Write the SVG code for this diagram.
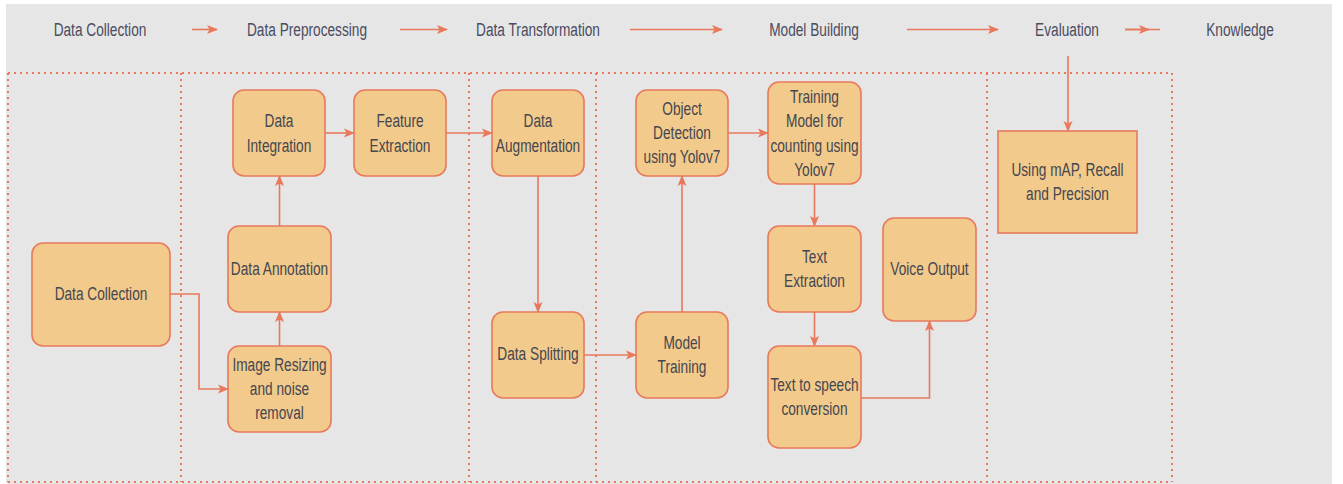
<svg xmlns="http://www.w3.org/2000/svg" width="1343" height="484" viewBox="0 0 1343 484">
<style>
.bg{fill:#e6e6e6}
.dot{fill:none;stroke:#e8795c;stroke-width:2;stroke-dasharray:2 4}
.node{fill:#f2ca8c;stroke:#e8795c;stroke-width:1.6}
.conn{fill:none;stroke:#e8795c;stroke-width:1.6}
.hdr{font-family:"Liberation Sans",Arial,sans-serif;font-size:19px;fill:#4a4c60;text-anchor:middle}
.lbl{font-family:"Liberation Sans",Arial,sans-serif;font-size:19px;fill:#45464f;text-anchor:middle}
</style>
<defs>
<marker id="ah" markerWidth="11" markerHeight="10" refX="10" refY="5" orient="auto" markerUnits="userSpaceOnUse">
<path d="M0,0.5 L11,5 L0,9.5 L2.5,5 Z" fill="#e8795c"/>
</marker>
</defs>
<rect x="0" y="0" width="1343" height="484" fill="#ffffff"/>
<rect class="bg" x="6" y="4" width="1326" height="480"/>

<g id="lanes">
<path class="dot" d="M8,73 H1172 M8,482 H1172 M8,73 V482 M181,73 V482 M469,73 V482 M596,73 V482 M987,73 V482 M1172,73 V482"/>
</g>

<g id="header">
<text class="hdr" transform="translate(100 35.5) scale(0.72 1)">Data Collection</text>
<text class="hdr" transform="translate(307 35.5) scale(0.72 1)">Data Preprocessing</text>
<text class="hdr" transform="translate(538 35.5) scale(0.72 1)">Data Transformation</text>
<text class="hdr" transform="translate(814 35.5) scale(0.72 1)">Model Building</text>
<text class="hdr" transform="translate(1067 35.5) scale(0.72 1)">Evaluation</text>
<text class="hdr" transform="translate(1240 35.5) scale(0.72 1)">Knowledge</text>
</g>

<g id="connectors">
<path class="conn" d="M192,29.5 H217" marker-end="url(#ah)"/>
<path class="conn" d="M400,29.5 H447" marker-end="url(#ah)"/>
<path class="conn" d="M630,29.5 H722" marker-end="url(#ah)"/>
<path class="conn" d="M907,29.5 H998" marker-end="url(#ah)"/>
<path class="conn" d="M1125,29.5 H1160"/>
<path class="conn" d="M1125,29.5 H1149" marker-end="url(#ah)"/>
<path class="conn" d="M1068,56 V131" marker-end="url(#ah)"/>
<path class="conn" d="M170,294 H199 V389 H228" marker-end="url(#ah)"/>
<path class="conn" d="M279.5,346 V312" marker-end="url(#ah)"/>
<path class="conn" d="M279.5,226 V176" marker-end="url(#ah)"/>
<path class="conn" d="M325,133 H354" marker-end="url(#ah)"/>
<path class="conn" d="M446,133 H492" marker-end="url(#ah)"/>
<path class="conn" d="M538,176 V312" marker-end="url(#ah)"/>
<path class="conn" d="M584,355 H636" marker-end="url(#ah)"/>
<path class="conn" d="M682,312 V176" marker-end="url(#ah)"/>
<path class="conn" d="M728,133 H768" marker-end="url(#ah)"/>
<path class="conn" d="M814.5,184 V226" marker-end="url(#ah)"/>
<path class="conn" d="M814.5,312 V346" marker-end="url(#ah)"/>
<path class="conn" d="M861,398 H929.5 V321" marker-end="url(#ah)"/>
</g>

<g id="n-data-collection">
<rect class="node" x="32" y="243" width="138" height="103" rx="11"/>
<text class="lbl" transform="translate(101 300) scale(0.72 1)">Data Collection</text>
</g>
<g id="n-data-integration">
<rect class="node" x="233" y="90" width="92" height="86" rx="11"/>
<text class="lbl" transform="translate(279 127) scale(0.72 1)"><tspan x="0" y="0">Data</tspan><tspan x="0" dy="25">Integration</tspan></text>
</g>
<g id="n-feature-extraction">
<rect class="node" x="354" y="90" width="92" height="86" rx="11"/>
<text class="lbl" transform="translate(400 127) scale(0.72 1)"><tspan x="0" y="0">Feature</tspan><tspan x="0" dy="25">Extraction</tspan></text>
</g>
<g id="n-data-annotation">
<rect class="node" x="228" y="226" width="103" height="86" rx="11"/>
<text class="lbl" transform="translate(279.5 275) scale(0.72 1)">Data Annotation</text>
</g>
<g id="n-image-resizing">
<rect class="node" x="228" y="346" width="103" height="86" rx="11"/>
<text class="lbl" transform="translate(279.5 370.5) scale(0.72 1)"><tspan x="0" y="0">Image Resizing</tspan><tspan x="0" dy="24.5">and noise</tspan><tspan x="0" dy="24.5">removal</tspan></text>
</g>
<g id="n-data-augmentation">
<rect class="node" x="492" y="90" width="92" height="86" rx="11"/>
<text class="lbl" transform="translate(538 127) scale(0.72 1)"><tspan x="0" y="0">Data</tspan><tspan x="0" dy="25">Augmentation</tspan></text>
</g>
<g id="n-data-splitting">
<rect class="node" x="492" y="312" width="92" height="86" rx="11"/>
<text class="lbl" transform="translate(538 360) scale(0.72 1)">Data Splitting</text>
</g>
<g id="n-object-detection">
<rect class="node" x="636" y="90" width="92" height="86" rx="11"/>
<text class="lbl" transform="translate(682 114.5) scale(0.72 1)"><tspan x="0" y="0">Object</tspan><tspan x="0" dy="24.5">Detection</tspan><tspan x="0" dy="24.5">using Yolov7</tspan></text>
</g>
<g id="n-model-training">
<rect class="node" x="636" y="312" width="92" height="86" rx="11"/>
<text class="lbl" transform="translate(682 348.5) scale(0.72 1)"><tspan x="0" y="0">Model</tspan><tspan x="0" dy="25">Training</tspan></text>
</g>
<g id="n-training-model">
<rect class="node" x="768" y="82" width="93" height="102" rx="11"/>
<text class="lbl" transform="translate(814.5 103) scale(0.72 1)"><tspan x="0" y="0">Training</tspan><tspan x="0" dy="24.3">Model for</tspan><tspan x="0" dy="24.3">counting using</tspan><tspan x="0" dy="24.3">Yolov7</tspan></text>
</g>
<g id="n-text-extraction">
<rect class="node" x="768" y="226" width="93" height="86" rx="11"/>
<text class="lbl" transform="translate(814.5 262.5) scale(0.72 1)"><tspan x="0" y="0">Text</tspan><tspan x="0" dy="25">Extraction</tspan></text>
</g>
<g id="n-text-to-speech">
<rect class="node" x="768" y="346" width="93" height="102" rx="11"/>
<text class="lbl" transform="translate(814.5 390.5) scale(0.72 1)"><tspan x="0" y="0">Text to speech</tspan><tspan x="0" dy="25">conversion</tspan></text>
</g>
<g id="n-voice-output">
<rect class="node" x="883" y="218" width="93" height="103" rx="11"/>
<text class="lbl" transform="translate(929.5 275) scale(0.72 1)">Voice Output</text>
</g>
<g id="n-evaluation-metrics">
<rect class="node" x="998" y="131" width="139" height="102"/>
<text class="lbl" transform="translate(1067.5 175.5) scale(0.72 1)"><tspan x="0" y="0">Using mAP, Recall</tspan><tspan x="0" dy="25">and Precision</tspan></text>
</g>
</svg>
